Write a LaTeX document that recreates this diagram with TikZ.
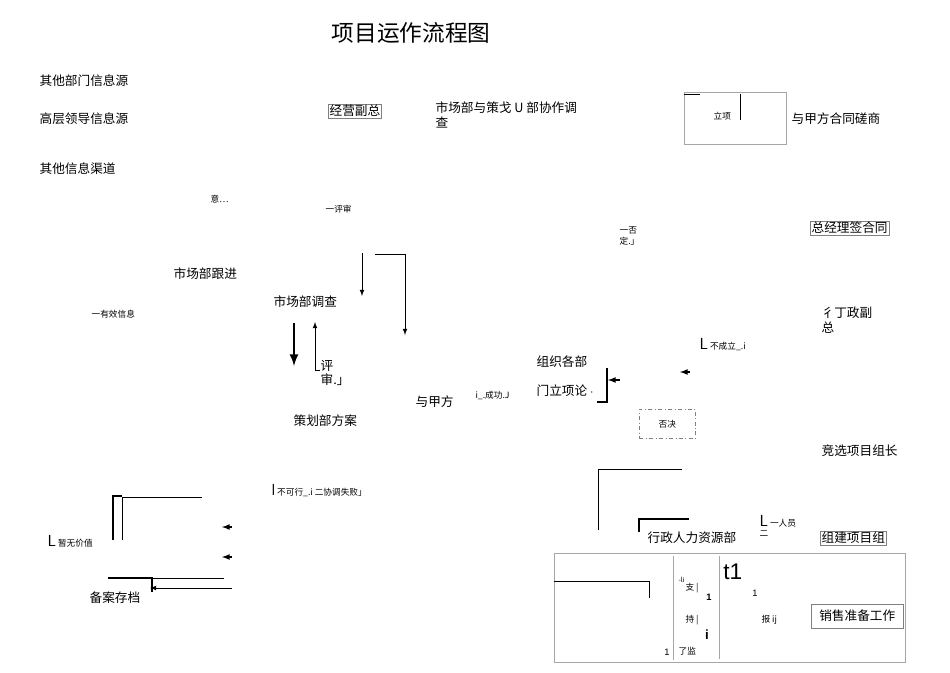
\documentclass[tikz,border=0pt]{standalone}
\usepackage{fontspec}
\setmainfont{Liberation Sans}
\newfontfamily\cjk{Noto Sans CJK SC}
\begin{document}
\begin{tikzpicture}[x=0.75pt,y=-0.75pt,
  t/.style={font=\cjk\fontsize{9.5}{11}\selectfont,inner sep=1pt,anchor=west},
  s/.style={font=\cjk\fontsize{6.5}{8}\selectfont,inner sep=1pt,anchor=west},
  ln/.style={line width=0.6pt},
  tk/.style={line width=1.6pt},
  gl/.style={draw=gray!70,line width=0.6pt},
  ar/.style={-latex,line width=0.6pt}]
\useasboundingbox (0,0) rectangle (950,672);
\node[font=\cjk\fontsize{17}{20}\selectfont,anchor=west] (title) at (327,33) {项目运作流程图};
\node[t] (a1) at (38,81) {其他部门信息源};
\node[t] (a2) at (38,119) {高层领导信息源};
\node[t] (a3) at (38,169) {其他信息渠道};
\node[t,draw=gray,inner sep=1pt] (b1) at (328,111) {经营副总};
\node[t,align=left] (b2) at (434,115) {市场部与策戈 U 部协作调\\查};
\node[t] (b3) at (790,119) {与甲方合同磋商};
\node[s] (lx) at (712,116) {立项};
\draw[gl] (684,92) rectangle (786,144);
\draw[ln] (684,94) -- (700,94);
\draw[ln] (740,94) -- (740,120);
\node[s] (y1) at (209,199) {意…};
\node[s] (y2) at (324,209) {一评审};
\node[s,align=left] (y3) at (618,236) {一否\\定.」};
\node[t,draw=gray,inner sep=1pt] (zj) at (810,228) {总经理签合同};
\node[t] (c1) at (172,274) {市场部跟进};
\node[t] (c2) at (272,302) {市场部调查};
\node[s] (c3) at (90,314) {一有效信息};
\node[t,align=left] (xz) at (820,320) {彳丁政副\\总};
\node[s] (bcl) at (698,345) {\textsf{\large L} 不成立\_.i};
\coordinate (r1) at (362,253); \coordinate (r2) at (362,296);
\draw[ar] (r1) -- (r2);
\coordinate (q1) at (375,254); \coordinate (q2) at (405,254); \coordinate (q3) at (405,335);
\draw[ln] (q1) -- (q2); \draw[ar] (q2) -- (q3);
\coordinate (p1) at (294,323); \coordinate (p2) at (294,366);
\draw[-latex,line width=2pt] (p1) -- (p2);
\coordinate (o1) at (315,370); \coordinate (o2) at (315,322);
\draw[ar] (o1) -- (o2);
\draw[ln] (315,370) -- (320,370);
\node[t,align=left] (ps) at (319,373) {评\\审.」};
\node[t] (zz) at (535,362) {组织各部};
\node[t] (mlx) at (535,391) {门立项论 $\cdot$};
\draw[tk] (597,402) -- (607,402) -- (607,368);
\coordinate (m1) at (620,380); \coordinate (m2) at (608,380);
\draw[-latex,line width=1pt] (m1) -- (m2);
\coordinate (m3) at (690,372); \coordinate (m4) at (680,372);
\draw[-latex,line width=1pt] (m3) -- (m4);
\node[t] (yjf) at (414,402) {与甲方};
\node[s] (cg) at (474,395) {i\_.成功.J};
\node[s,draw=gray,dash dot,minimum width=42pt,minimum height=22pt] (fj) at (639,424) {否决};
\node[t] (ch) at (292,421) {策划部方案};
\node[t] (jx) at (820,451) {竞选项目组长};
\node[s] (bkx) at (270,491) {\textsf{\large l} 不可行\_.i 二协调失败」};
\draw[ln] (598,530) -- (598,469) -- (682,469);
\draw[tk] (113,540) -- (113,496) -- (122,496);
\draw[ln] (122,540) -- (122,497) -- (202,497);
\coordinate (k1) at (232,527); \coordinate (k2) at (222,527);
\draw[-latex,line width=1pt] (k1) -- (k2);
\coordinate (k3) at (232,557); \coordinate (k4) at (222,557);
\draw[-latex,line width=1pt] (k3) -- (k4);
\node[s] (zw) at (46,541) {\textsf{\large L} 暂无价值};
\draw[tk] (108,578) -- (152,578) -- (152,592);
\coordinate (h1) at (224,578); \coordinate (h2) at (152,578);
\draw[ln] (h1) -- (h2);
\coordinate (h3) at (232,588); \coordinate (h4) at (150,588);
\draw[ar] (h3) -- (h4);
\node[t] (ba) at (88,598) {备案存档};
\draw[tk] (639,532) -- (639,519) -- (689,519);
\node[t] (xzr) at (646,538) {行政人力资源部};
\node[s,align=left] (ry) at (758,526) {\textsf{\large L} 一人员\\二};
\node[t,draw=gray,inner sep=1pt] (zjxm) at (820,538) {组建项目组};
\draw[gl] (554,553) rectangle (905,662);
\draw[ln] (554,581) -- (649,581) -- (649,598);
\draw[gl] (673,556) -- (673,660);
\draw[gl] (719,556) -- (719,659);
\node[font=\fontsize{17}{20}\selectfont,anchor=west,inner sep=0] (t1) at (723,572) {t1};
\node[s] (zhi) at (677,580) {\tiny -li\\};
\node[s] (zc) at (684,588) {支 |};
\node[font=\bfseries\fontsize{7}{8}\selectfont] (n1) at (709,597) {1};
\node[font=\fontsize{7}{8}\selectfont] (n2) at (755,593) {1};
\node[s] (cz) at (684,620) {持 |};
\node[font=\bfseries\fontsize{10}{11}\selectfont] (ii) at (707,635) {i};
\node[font=\fontsize{7}{8}\selectfont] (n3) at (667,652) {1};
\node[s] (lj) at (677,651) {了监};
\node[s] (bij) at (760,620) {报 ij};
\node[t,draw=gray,inner sep=2pt,minimum width=69pt,minimum height=18pt] (xs) at (811,616) {销售准备工作};
\end{tikzpicture}
\end{document}
